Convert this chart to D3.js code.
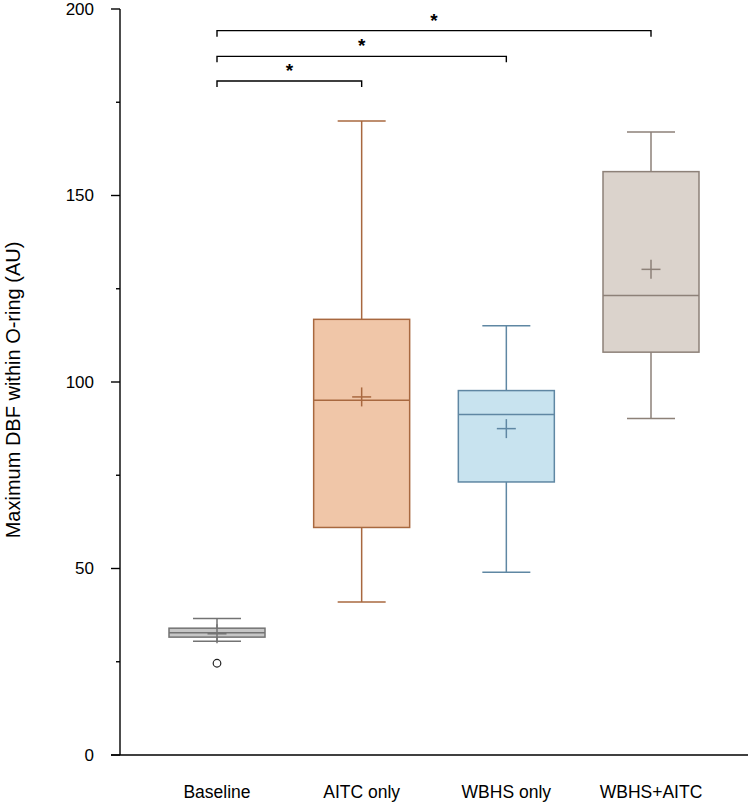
<!DOCTYPE html>
<html>
<head>
<meta charset="utf-8">
<script src="https://cdn.jsdelivr.net/npm/d3@7"></script>
<style>
 body { margin: 0; background: #fff; }
 text { font-family: Arial, "Liberation Sans", sans-serif; fill: #000; }
</style>
</head>
<body>
<div id="chart"></div>
<script>
// groups and box statistics
const categories = ["Baseline", "AITC only", "WBHS only", "WBHS+AITC"];
const whiskerLow = [30.5, 41, 49, 90.2];
const q1 = [31.6, 61, 73.2, 108];
const median = [32.8, 95.1, 91.3, 123.2];
const q3 = [34, 116.8, 97.7, 156.4];
const whiskerHigh = [36.6, 170, 115.1, 167];
const means = [32.5, 96, 87.5, 130.2];
const outliers = [{ group: "Baseline", value: 24.6 }];
const yTicks = [0, 50, 100, 150, 200];
const yMinorTicks = [25, 75, 125, 175];
// significance brackets: from, to, level
const brackets = [
 { from: "Baseline", to: "AITC only", level: 180.7 },
 { from: "Baseline", to: "WBHS only", level: 187.3 },
 { from: "Baseline", to: "WBHS+AITC", level: 194.2 }
];

const fills = ["#c6c6c6", "#f0c6a8", "#c8e3ef", "#dbd3cc"];
const strokes = ["#737373", "#a8683f", "#5f87a3", "#8d8178"];

const width = 750, height = 803;
const svg = d3.select("#chart").append("svg")
 .attr("width", width)
 .attr("height", height);

const y = d3.scaleLinear().domain([0, 200]).range([755, 9]);
const x = d3.scalePoint().domain(categories).range([217, 651]);
const boxW = 96, capW = 48, crossR = 9.5;

// axes
svg.append("line")
 .attr("x1", 120).attr("x2", 120)
 .attr("y1", y(200)).attr("y2", y(0))
 .attr("stroke", "#000").attr("stroke-width", 1.4);
svg.append("line")
 .attr("x1", 111).attr("x2", 748)
 .attr("y1", y(0)).attr("y2", y(0))
 .attr("stroke", "#000").attr("stroke-width", 1.4);

svg.selectAll(".tick").data(yTicks).enter().append("line")
 .attr("x1", 111).attr("x2", 120)
 .attr("y1", d => y(d)).attr("y2", d => y(d))
 .attr("stroke", "#000").attr("stroke-width", 1.4);
svg.selectAll(".minor").data(yMinorTicks).enter().append("line")
 .attr("x1", 116).attr("x2", 120)
 .attr("y1", d => y(d)).attr("y2", d => y(d))
 .attr("stroke", "#000").attr("stroke-width", 1.4);
svg.selectAll(".ylab").data(yTicks).enter().append("text")
 .attr("x", 94).attr("y", d => y(d))
 .attr("dy", "0.35em")
 .attr("text-anchor", "end")
 .style("font-size", "17px")
 .text(d => d);

svg.append("text")
 .attr("transform", `translate(20,${(y(0) + y(200)) / 2 + 8}) rotate(-90)`)
 .attr("text-anchor", "middle")
 .style("font-size", "20px")
 .text("Maximum DBF within O-ring (AU)");

svg.selectAll(".xlab").data(categories).enter().append("text")
 .attr("x", d => x(d)).attr("y", 798)
 .attr("text-anchor", "middle")
 .style("font-size", "17.5px")
 .text(d => d);

// boxes
const g = svg.selectAll(".box").data(categories).enter().append("g");
g.append("line")
 .attr("x1", d => x(d)).attr("x2", d => x(d))
 .attr("y1", (d, i) => y(whiskerHigh[i])).attr("y2", (d, i) => y(whiskerLow[i]))
 .attr("stroke", (d, i) => strokes[i]).attr("stroke-width", 1.5);
g.append("line")
 .attr("x1", d => x(d) - capW / 2).attr("x2", d => x(d) + capW / 2)
 .attr("y1", (d, i) => y(whiskerHigh[i])).attr("y2", (d, i) => y(whiskerHigh[i]))
 .attr("stroke", (d, i) => strokes[i]).attr("stroke-width", 1.5);
g.append("line")
 .attr("x1", d => x(d) - capW / 2).attr("x2", d => x(d) + capW / 2)
 .attr("y1", (d, i) => y(whiskerLow[i])).attr("y2", (d, i) => y(whiskerLow[i]))
 .attr("stroke", (d, i) => strokes[i]).attr("stroke-width", 1.5);
g.append("rect")
 .attr("x", d => x(d) - boxW / 2)
 .attr("width", boxW)
 .attr("y", (d, i) => y(q3[i]))
 .attr("height", (d, i) => y(q1[i]) - y(q3[i]))
 .attr("fill", (d, i) => fills[i])
 .attr("stroke", (d, i) => strokes[i]).attr("stroke-width", 1.5);
g.append("line")
 .attr("x1", d => x(d) - boxW / 2).attr("x2", d => x(d) + boxW / 2)
 .attr("y1", (d, i) => y(median[i])).attr("y2", (d, i) => y(median[i]))
 .attr("stroke", (d, i) => strokes[i]).attr("stroke-width", 1.5);
// mean crosses
g.append("line")
 .attr("x1", d => x(d) - crossR).attr("x2", d => x(d) + crossR)
 .attr("y1", (d, i) => y(means[i])).attr("y2", (d, i) => y(means[i]))
 .attr("stroke", (d, i) => strokes[i]).attr("stroke-width", 1.5);
g.append("line")
 .attr("x1", d => x(d)).attr("x2", d => x(d))
 .attr("y1", (d, i) => y(means[i]) - crossR).attr("y2", (d, i) => y(means[i]) + crossR)
 .attr("stroke", (d, i) => strokes[i]).attr("stroke-width", 1.5);

// outliers
svg.selectAll(".out").data(outliers).enter().append("circle")
 .attr("cx", d => x(d.group)).attr("cy", d => y(d.value))
 .attr("r", 3.8)
 .attr("fill", "#fff").attr("stroke", "#222").attr("stroke-width", 1.2);

// significance brackets
const bg = svg.selectAll(".br").data(brackets).enter().append("g");
bg.append("path")
 .attr("d", d => `M${x(d.from)},${y(d.level) + 6}V${y(d.level)}H${x(d.to)}V${y(d.level) + 6}`)
 .attr("fill", "none").attr("stroke", "#000").attr("stroke-width", 1.4);
bg.append("text")
 .attr("x", d => (x(d.from) + x(d.to)) / 2)
 .attr("y", d => y(d.level) - 4)
 .attr("text-anchor", "middle")
 .style("font-size", "19px").style("font-weight", "bold")
 .text("*");
</script>
</body>
</html>
